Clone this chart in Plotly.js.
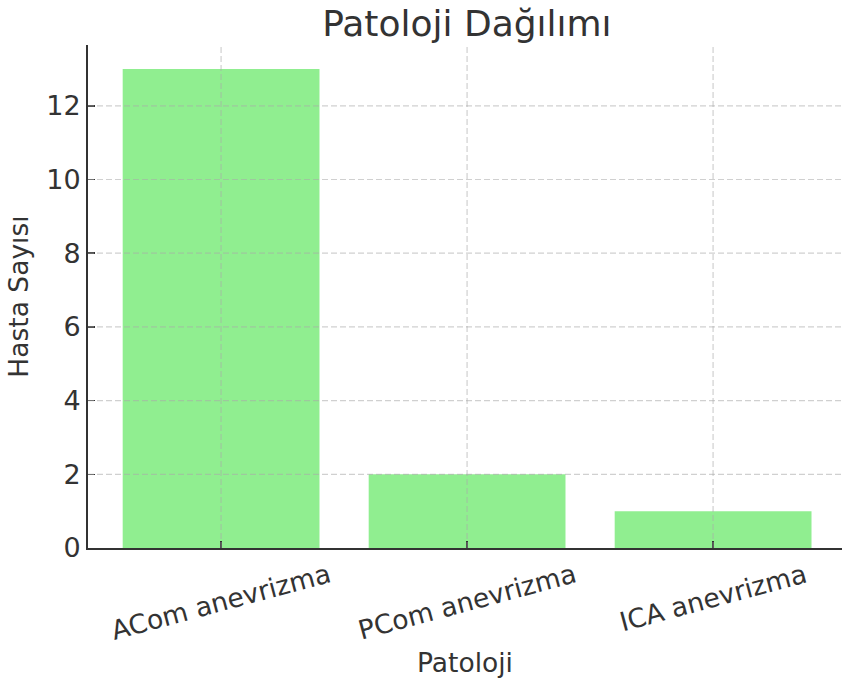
<!DOCTYPE html>
<html>
<head>
<meta charset="utf-8">
<script src="https://cdn.plot.ly/plotly-3.0.1.min.js"></script>
<style>
html,body{margin:0;padding:0;background:#fff;}
#chart{width:842px;height:687px;}
</style>
</head>
<body>
<div id="chart"></div>
<script>
const categories = ["ACom anevrizma", "PCom anevrizma", "ICA anevrizma"];
const patientCounts = [13, 2, 1];
const yTicks = [0, 2, 4, 6, 8, 10, 12];
const chartTitle = "Patoloji Dağılımı";
const xTitle = "Patoloji";
const yTitle = "Hasta Sayısı";

const FONT = "DejaVu Sans, sans-serif";
const TXT = "#333333";
const GRID = "rgba(170,170,170,0.55)";
const xIdx = categories.map((c, i) => i);

const trace = {
  type: "bar",
  x: xIdx,
  y: patientCounts,
  width: 0.8,
  marker: {color: "#90EE90", line: {width: 0}},
  hoverinfo: "skip"
};

const labelAnns = categories.map((c, i) => ({
  x: i, xref: "x", y: 0, yref: "paper",
  text: c, showarrow: false, textangle: -15,
  xanchor: "center", yanchor: "top", yshift: -7,
  font: {family: FONT, size: 26.5, color: TXT}
}));

// grid drawn above bars, as in the reference
const gridShapes = [
  ...yTicks.filter(v => v > 0).map(v => ({
    type: "line", xref: "paper", x0: 0, x1: 1, yref: "y", y0: v, y1: v,
    layer: "above", line: {color: GRID, width: 1.2, dash: "6px,3px"}
  })),
  ...xIdx.map(i => ({
    type: "line", xref: "x", x0: i, x1: i, yref: "paper", y0: 0, y1: 1,
    layer: "above", line: {color: GRID, width: 1.2, dash: "6px,3px"}
  }))
];

const layout = {
  width: 842, height: 687,
  margin: {l: 88, r: 0, t: 45, b: 139, pad: 0},
  paper_bgcolor: "#fff", plot_bgcolor: "#fff",
  showlegend: false,
  title: {text: chartTitle, x: 0.5545, xanchor: "center", y: 0.984, yanchor: "top",
          font: {family: FONT, size: 36, color: TXT}},
  xaxis: {
    range: [-0.541, 2.524], tickvals: xIdx, showticklabels: false,
    ticks: "inside", ticklen: 7, tickwidth: 1.5, tickcolor: TXT,
    showgrid: false,
    showline: true, linecolor: TXT, linewidth: 2, zeroline: false,
    layer: "above traces",
    title: {text: xTitle, standoff: 104, font: {family: FONT, size: 26.5, color: TXT}}
  },
  yaxis: {
    range: [0, 13.65], tickvals: yTicks, ticktext: yTicks.map(String),
    ticks: "inside", ticklen: 7, tickwidth: 1.5, tickcolor: TXT,
    tickfont: {family: FONT, size: 27, color: TXT},
    showgrid: false,
    showline: true, linecolor: TXT, linewidth: 2, zeroline: false,
    layer: "above traces", ticklabelstandoff: 0,
    title: {text: yTitle, standoff: 10, font: {family: FONT, size: 26.5, color: TXT}}
  },
  shapes: gridShapes,
  annotations: labelAnns
};

Plotly.newPlot("chart", [trace], layout, {staticPlot: true, displayModeBar: false});
</script>
</body>
</html>
